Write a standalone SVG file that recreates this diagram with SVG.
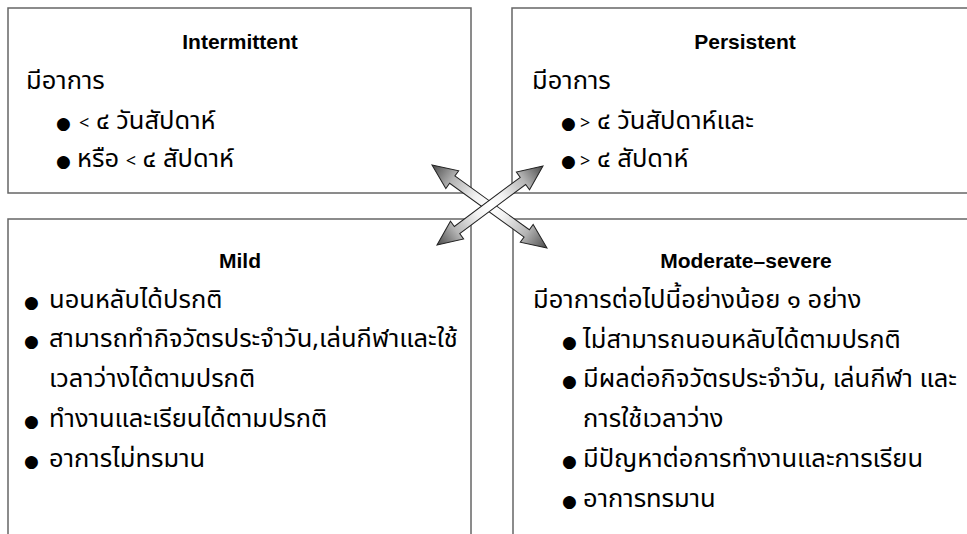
<svg xmlns="http://www.w3.org/2000/svg" width="967" height="534" viewBox="0 0 967 534">
<style>
.box{fill:#fff;stroke:#666;stroke-width:1.5}
.title{font-family:"Liberation Sans",Arial,sans-serif;font-weight:bold;font-size:21px;fill:#000;text-anchor:middle}
.th{font-family:"Noto Sans Thai","Noto Sans","DejaVu Sans",sans-serif;font-size:25.5px;fill:#000}
.b{font-family:"DejaVu Sans",sans-serif;font-size:17px}
.s{font-size:18px}
.arrow{fill:url(#ag);stroke:#222;stroke-width:1}
</style>
<defs>
<linearGradient id="ag" x1="0" y1="0" x2="1" y2="0">
<stop offset="0" stop-color="#4a4a4a"/>
<stop offset="0.18" stop-color="#b4b4b4"/>
<stop offset="0.38" stop-color="#f2f2f2"/>
<stop offset="0.5" stop-color="#ffffff"/>
<stop offset="0.62" stop-color="#f2f2f2"/>
<stop offset="0.82" stop-color="#b4b4b4"/>
<stop offset="1" stop-color="#4a4a4a"/>
</linearGradient>
</defs>
<rect width="967" height="534" fill="#fff"/>
<g id="intermittent">
<rect class="box" x="8" y="8" width="463" height="185"/>
<text class="title" x="240" y="49">Intermittent</text>
<text class="th" x="26" y="89">มีอาการ</text>
<text class="th" y="129"><tspan class="b" x="56">●</tspan><tspan class="s" x="79">&lt;</tspan><tspan> ๔ วันสัปดาห์</tspan></text>
<text class="th" y="167"><tspan class="b" x="56">●</tspan><tspan x="77">หรือ </tspan><tspan class="s">&lt;</tspan><tspan> ๔ สัปดาห์</tspan></text>
</g>
<g id="persistent">
<rect class="box" x="512" y="8" width="470" height="185"/>
<text class="title" x="745" y="49">Persistent</text>
<text class="th" x="532" y="89">มีอาการ</text>
<text class="th" y="129"><tspan class="b" x="561">●</tspan><tspan class="s" x="580">&gt;</tspan><tspan> ๔ วันสัปดาห์และ</tspan></text>
<text class="th" y="167"><tspan class="b" x="561">●</tspan><tspan class="s" x="580">&gt;</tspan><tspan> ๔ สัปดาห์</tspan></text>
</g>
<g id="mild">
<rect class="box" x="8" y="219" width="463" height="340"/>
<text class="title" x="240" y="268">Mild</text>
<text class="th" y="308"><tspan class="b" x="24">●</tspan><tspan x="49">นอนหลับได้ปรกติ</tspan></text>
<text class="th" y="347"><tspan class="b" x="24">●</tspan><tspan x="49">สามารถทำกิจวัตรประจำวัน,เล่นกีฬาและใช้</tspan></text>
<text class="th" x="49" y="387">เวลาว่างได้ตามปรกติ</text>
<text class="th" y="427"><tspan class="b" x="24">●</tspan><tspan x="49">ทำงานและเรียนได้ตามปรกติ</tspan></text>
<text class="th" y="467"><tspan class="b" x="24">●</tspan><tspan x="49">อาการไม่ทรมาน</tspan></text>
</g>
<g id="moderate-severe">
<rect class="box" x="513" y="219" width="470" height="340"/>
<text class="title" x="746" y="268">Moderate–severe</text>
<text class="th" x="533" y="308">มีอาการต่อไปนี้อย่างน้อย ๑ อย่าง</text>
<text class="th" y="348"><tspan class="b" x="562">●</tspan><tspan x="583">ไม่สามารถนอนหลับได้ตามปรกติ</tspan></text>
<text class="th" y="387"><tspan class="b" x="562">●</tspan><tspan x="583">มีผลต่อกิจวัตรประจำวัน, เล่นกีฬา และ</tspan></text>
<text class="th" x="583" y="427">การใช้เวลาว่าง</text>
<text class="th" y="467"><tspan class="b" x="562">●</tspan><tspan x="583">มีปัญหาต่อการทำงานและการเรียน</tspan></text>
<text class="th" y="507"><tspan class="b" x="562">●</tspan><tspan x="583">อาการทรมาน</tspan></text>
</g>
<g id="connectors">
<polygon class="arrow" transform="translate(432,165) rotate(35.82)" points="0,0 25,-11 25,-4.5 116.8,-4.5 116.8,-11 141.8,0 116.8,11 116.8,4.5 25,4.5 25,11"/>
<polygon class="arrow" transform="translate(437,245) rotate(-36.70)" points="0,0 25,-11 25,-4.5 107.2,-4.5 107.2,-11 132.2,0 107.2,11 107.2,4.5 25,4.5 25,11"/>
</g>
</svg>
